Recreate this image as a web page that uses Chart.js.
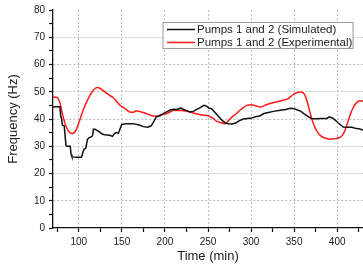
<!DOCTYPE html>
<html>
<head>
<meta charset="utf-8">
<script src="https://cdn.jsdelivr.net/npm/chart.js@4"></script>
<style>
  html, body { margin: 0; padding: 0; background: #fff; overflow: hidden; }
  #wrap { width: 363px; height: 269px; position: relative; }
</style>
</head>
<body>
<div id="wrap"><canvas id="freq_chart"></canvas></div>
<script>
// Simulated (black) - time in min, frequency in Hz
var simTime = [70, 72, 78, 79, 80, 81, 83, 85, 86, 90, 91, 92, 97, 103, 104, 106, 108, 110, 112, 115,
    116, 117, 119, 121, 124, 127, 130, 136, 139, 141, 143, 146, 148, 150, 155, 163, 170, 175, 180, 184,
    187, 190, 194, 198, 202, 206, 210, 214, 218, 222, 226, 229, 233, 237, 241, 245, 248, 251, 254, 258,
    262, 266, 270, 273, 278, 282, 286, 291, 296, 301, 305, 310, 315, 320, 326, 334, 340, 346, 350, 354,
    358, 362, 366, 370, 375, 382, 388, 391, 395, 398, 401, 404, 407, 412, 417, 421, 425, 430];
var simFreq = [44.3, 44.5, 44.5, 41, 40, 37.7, 37.5, 30.5, 30, 30, 27, 26.1, 26, 26, 27, 29, 29.2, 32.5, 33.2, 33.5,
    34, 36.2, 36.2, 35.8, 35.3, 34.5, 34.2, 34, 33.6, 34.5, 35, 34.8, 36.5, 38, 38.3, 38.3, 37.8, 37.2, 37, 37.5,
    39, 40.8, 41.3, 42, 42.6, 43.3, 43.6, 43.5, 44, 43.5, 43, 42.6, 42.8, 43.5, 44.2, 45, 44.8, 44, 43.8, 42.5,
    41, 39.6, 38.6, 38.3, 38.2, 38.5, 39.3, 40, 40.2, 40.4, 40.8, 41.1, 42, 42.4, 42.8, 43.2, 43.5, 43.9, 43.8, 43.3,
    42.8, 41.8, 41, 40.2, 40.1, 40.2, 40.2, 40.8, 40.3, 39.5, 38.6, 37.8, 37.1, 37, 37, 36.6, 36.4, 36];

// Experimental (red)
var expTime = [70, 73, 76, 78, 80, 82, 84, 87, 90, 93, 96, 99, 102, 105, 109, 113, 117, 121, 125, 129,
    134, 140, 148, 153, 159, 163, 167, 171, 176, 183, 192, 198, 202, 206, 210, 216, 222, 229, 235, 241,
    246, 251, 256, 260, 265, 270, 274, 278, 283, 287, 291, 295, 300, 306, 311, 316, 322, 330, 336, 342,
    346, 350, 355, 359, 362, 365, 368, 371, 374, 377, 381, 386, 392, 397, 402, 406, 409, 412, 415, 419,
    422, 425, 428, 430];
var expFreq = [48.1, 48, 47.5, 46, 43.2, 40.5, 38.3, 36, 34.9, 34.7, 35.5, 37.7, 40.5, 43.2, 46.3, 48.7, 50.6, 51.6, 51.2, 50.2,
    49, 47.8, 45, 44, 42.6, 42.5, 43, 42.7, 42.3, 41.4, 41, 41.7, 42, 42.6, 43.2, 43.1, 43, 42.6, 42, 41.6,
    41.4, 41.1, 40.2, 39.2, 38.6, 38.3, 39.5, 40.8, 42, 43.2, 44.2, 45, 45.2, 44.8, 44.4, 45, 45.7, 46.3, 46.8, 47.3,
    48.2, 49.2, 49.8, 49.9, 49, 46.5, 43, 39.5, 37, 35.3, 33.8, 33, 32.6, 32.8, 33.1, 34, 35.8, 38.5, 41.5, 44.4,
    45.8, 46.6, 46.7, 46.5];

var xTicks = [75, 100, 125, 150, 175, 200, 225, 250, 275, 300, 325, 350, 375, 400, 425];
var yTicks = [0, 5, 10, 15, 20, 25, 30, 35, 40, 45, 50, 55, 60, 65, 70, 75, 80];

var seriesLabels = ["Pumps 1 and 2 (Simulated)", "Pumps 1 and 2 (Experimental)"];

function pairs(xs, ys) {
    return xs.map(function(x, i) { return {x: x, y: ys[i]}; });
}

var fontFamily = "'Liberation Sans', Arial, sans-serif";

// legend drawn as a framed box inside the plot
var boxLegend = {
    id: 'boxLegend',
    afterDraw: function(chart) {
        var ctx = chart.ctx;
        var x0 = 163, y0 = 22.5, w = 190, h = 26;
        ctx.save();
        ctx.fillStyle = '#fff';
        ctx.fillRect(x0, y0, w, h);
        ctx.strokeStyle = '#9a9a9a';
        ctx.lineWidth = 1;
        ctx.strokeRect(x0, y0, w, h);
        ctx.font = "11.5px " + fontFamily;
        ctx.textBaseline = 'middle';
        chart.data.datasets.forEach(function(ds, i) {
            var y = y0 + 7 + i * 13;
            ctx.strokeStyle = ds.borderColor;
            ctx.lineWidth = 1.5;
            ctx.beginPath();
            ctx.moveTo(x0 + 4, y);
            ctx.lineTo(x0 + 32, y);
            ctx.stroke();
            ctx.fillStyle = '#222';
            ctx.fillText(ds.label, x0 + 34, y);
        });
        ctx.restore();
    }
};

var ctx = document.getElementById("freq_chart").getContext("2d");
new Chart(ctx, {
    type: 'line',
    data: {
        datasets: [
            {
                label: seriesLabels[0],
                data: pairs(simTime, simFreq),
                borderColor: '#111',
                borderWidth: 1.5,
                pointRadius: 0,
                tension: 0
            },
            {
                label: seriesLabels[1],
                data: pairs(expTime, expFreq),
                borderColor: '#ff1a1a',
                borderWidth: 1.5,
                pointRadius: 0,
                cubicInterpolationMode: 'monotone'
            }
        ]
    },
    options: {
        responsive: true,
        maintainAspectRatio: false,
        animation: false,
        layout: { padding: { top: 10, right: 0, left: 0, bottom: 0 } },
        plugins: { legend: { display: false }, tooltip: { enabled: false } },
        scales: {
            x: {
                type: 'linear',
                min: 70,
                max: 430,
                afterBuildTicks: function(scale) {
                    scale.ticks = xTicks.map(function(v) { return {value: v}; });
                },
                afterFit: function(scale) { scale.height = 41; },
                ticks: {
                    autoSkip: false,
                    maxRotation: 0,
                    padding: 4,
                    color: '#222',
                    font: { family: fontFamily, size: 10 },
                    callback: function(v) { return v % 50 === 0 ? v : ''; }
                },
                grid: {
                    color: function(c) { return c.tick && c.tick.value % 50 === 0 ? '#bdbdbd' : 'rgba(0,0,0,0)'; },
                    lineWidth: 1,
                    tickColor: '#111',
                    tickWidth: 1.2,
                    tickLength: 4
                },
                border: { color: '#111', width: 1.3, dash: [2, 2] },
                title: {
                    display: true,
                    text: 'Time (min)',
                    color: '#222',
                    font: { family: fontFamily, size: 13 },
                    padding: { top: 0, bottom: 5 }
                }
            },
            y: {
                min: 0,
                max: 80,
                afterBuildTicks: function(scale) {
                    scale.ticks = yTicks.map(function(v) { return {value: v}; });
                },
                afterFit: function(scale) { scale.width = 53; },
                ticks: {
                    autoSkip: false,
                    padding: 4,
                    color: '#222',
                    font: { family: fontFamily, size: 10 },
                    callback: function(v) { return v % 10 === 0 ? v : ''; }
                },
                grid: {
                    color: function(c) {
                        var v = c.tick ? c.tick.value : 0;
                        return (v % 10 === 0 && v > 0 && v < 80) ? '#bdbdbd' : 'rgba(0,0,0,0)';
                    },
                    lineWidth: 1,
                    tickColor: '#111',
                    tickWidth: 1.2,
                    tickLength: 4
                },
                border: { color: '#111', width: 1.3, dash: [2, 2] },
                title: {
                    display: true,
                    text: 'Frequency (Hz)',
                    color: '#222',
                    font: { family: fontFamily, size: 13 },
                    padding: { top: 6, bottom: 0 }
                }
            }
        }
    },
    plugins: [boxLegend]
});
</script>
</body>
</html>
